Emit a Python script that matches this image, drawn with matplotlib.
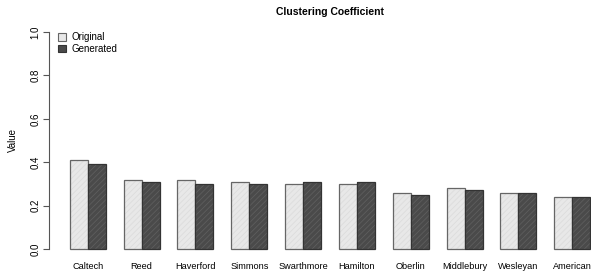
import matplotlib.pyplot as plt
import numpy as np
from matplotlib.patches import Patch

plt.rcParams["font.family"] = ["Liberation Sans", "DejaVu Sans"]
plt.rcParams["hatch.linewidth"] = 0.6

colleges = ["Caltech", "Reed", "Haverford", "Simmons", "Swarthmore",
            "Hamilton", "Oberlin", "Middlebury", "Wesleyan", "American"]
original = [0.41, 0.32, 0.32, 0.31, 0.30, 0.30, 0.26, 0.28, 0.26, 0.24]
generated = [0.39, 0.31, 0.30, 0.30, 0.31, 0.31, 0.25, 0.27, 0.26, 0.24]

fig = plt.figure(figsize=(5.91, 2.75), dpi=100)
# axes placed like R's barplot plot region (right edge runs past the figure)
ax = fig.add_axes([49 / 591, 17.3 / 275, 562 / 591, 234.4 / 275])

grp = np.arange(len(colleges)) * 3 + 1  # R beside=TRUE, space=c(0,1)
x_o = grp + 0.5
x_g = grp + 1.5

# fills with shading lines, outline drawn on top
ax.bar(x_o, original, width=1, color="#e8e8e8", linewidth=0)
ax.bar(x_g, generated, width=1, color="#4a4a4a", linewidth=0)
ax.bar(x_o, original, width=1, fill=False, hatch="//////", edgecolor="#dcdcdc", linewidth=0)
ax.bar(x_g, generated, width=1, fill=False, hatch="//////", edgecolor="#5e5e5e", linewidth=0)
ax.bar(x_o, original, width=1, fill=False, edgecolor="#666666", linewidth=0.9)
ax.bar(x_g, generated, width=1, fill=False, edgecolor="#333333", linewidth=0.9)

ax.set_xlim(-0.16, 31.16)
ax.set_ylim(-0.04, 1.04)

for s in ["top", "right", "bottom"]:
    ax.spines[s].set_visible(False)
ax.spines["left"].set_bounds(0, 1)
ax.spines["left"].set_color("#555555")
ax.spines["left"].set_linewidth(0.8)

ax.set_yticks([0.0, 0.2, 0.4, 0.6, 0.8, 1.0])
ax.set_yticklabels(["0.0", "0.2", "0.4", "0.6", "0.8", "1.0"], rotation=90,
                   va="center", fontsize=7)
ax.tick_params(axis="y", length=4, width=0.8, color="#555555", pad=2)
ax.set_xticks(grp + 1)
ax.set_xticklabels(colleges, fontsize=6.6)
ax.tick_params(axis="x", length=0, pad=3)

ax.set_ylabel("Value", fontsize=7, labelpad=9)
ax.set_title("Clustering Coefficient", fontsize=7.5, fontweight="bold", pad=6)

handles = [Patch(facecolor="#e8e8e8", edgecolor="#666666", linewidth=0.8, label="Original"),
           Patch(facecolor="#4a4a4a", edgecolor="#333333", linewidth=0.8, label="Generated")]
ax.legend(handles=handles, loc="upper left", bbox_to_anchor=(0.004, 0.99), frameon=False,
          fontsize=7, handlelength=0.8, handleheight=0.8, handletextpad=0.6,
          labelspacing=0.15, borderaxespad=0.3)

fig.savefig("out.png", dpi=100)
